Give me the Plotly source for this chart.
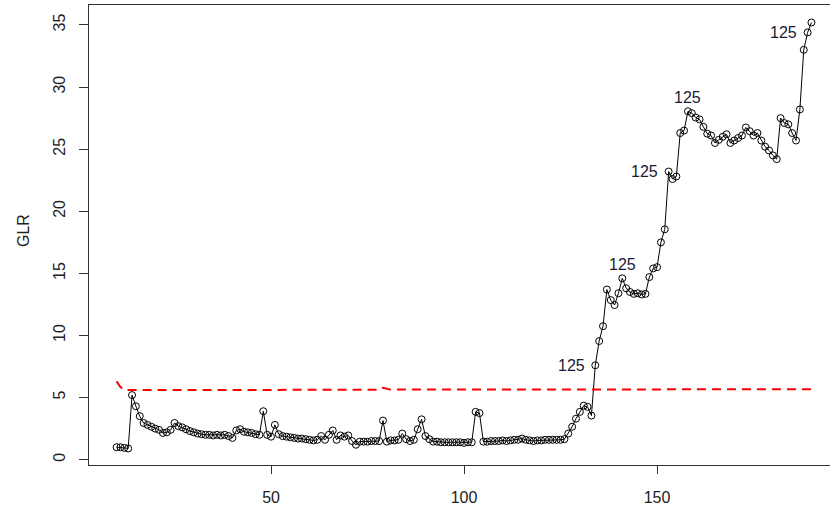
import plotly.graph_objects as go

x_vals = list(range(10, 191))
glr = [
    1.0, 1.0, 0.95, 0.9, 5.2, 4.3, 3.5, 2.95, 2.8, 2.65,
    2.5, 2.4, 2.15, 2.2, 2.4, 2.95, 2.7, 2.6, 2.45, 2.3,
    2.2, 2.1, 2.05, 2.0, 2.0, 1.95, 2.0, 1.95, 2.0, 1.9,
    1.75, 2.35, 2.45, 2.25, 2.2, 2.15, 2.05, 2.0, 3.9, 2.0,
    1.85, 2.8, 2.05, 1.9, 1.85, 1.8, 1.75, 1.7, 1.7, 1.65,
    1.6, 1.55, 1.6, 1.9, 1.6, 2.0, 2.35, 1.6, 1.95, 1.85,
    1.95, 1.5, 1.2, 1.45, 1.45, 1.45, 1.5, 1.5, 1.5, 3.15,
    1.45, 1.55, 1.55, 1.6, 2.1, 1.65, 1.5, 1.6, 2.45, 3.25,
    1.9, 1.65, 1.45, 1.45, 1.4, 1.4, 1.4, 1.4, 1.4, 1.4,
    1.35, 1.4, 1.4, 3.85, 3.75, 1.45, 1.45, 1.5, 1.5, 1.5,
    1.55, 1.5, 1.55, 1.6, 1.6, 1.7, 1.6, 1.55, 1.5, 1.55,
    1.55, 1.6, 1.6, 1.6, 1.6, 1.6, 1.65, 2.1, 2.65, 3.3,
    3.85, 4.35, 4.25, 3.55, 7.6, 9.55, 10.75, 13.7, 12.85, 12.45,
    13.4, 14.6, 13.8, 13.5, 13.35, 13.4, 13.3, 13.35, 14.7, 15.4,
    15.5, 17.5, 18.55, 23.2, 22.6, 22.8, 26.3, 26.5, 28.05, 27.9,
    27.55, 27.4, 26.8, 26.25, 26.1, 25.5, 25.75, 26.0, 26.2, 25.5,
    25.7, 25.9, 26.1, 26.75, 26.45, 26.1, 26.3, 25.7, 25.2, 24.9,
    24.5, 24.2, 27.5, 27.1, 27.0, 26.3, 25.7, 28.2, 33.0, 34.4,
    35.2,
]

# threshold (red dashed) vertices
thr_x = [10, 11, 12, 13, 78, 79, 80, 81, 190]
thr_y = [6.3, 5.85, 5.6, 5.6, 5.63, 5.78, 5.7, 5.64, 5.67]

# labelled points
label_x = [134, 141, 153, 158, 189]
label_pos = ["left", "top", "left", "top", "left"]
label_text = "125"

x_ticks = [50, 100, 150]
y_ticks = [0, 5, 10, 15, 20, 25, 30, 35]

FONT = "Liberation Sans, Arial, sans-serif"

fig = go.Figure()
fig.add_trace(go.Scatter(
    x=x_vals, y=glr, mode="lines+markers",
    line=dict(color="black", width=1),
    marker=dict(symbol="circle-open", size=7,
                line=dict(color="rgba(0,0,0,0.7)", width=1)),
    showlegend=False,
))
fig.add_trace(go.Scatter(
    x=thr_x, y=thr_y, mode="lines",
    line=dict(color="#ff0000", width=2, dash="9px,6px"),
    showlegend=False,
))

for lx, pos in zip(label_x, label_pos):
    ly = glr[x_vals.index(lx)]
    fig.add_annotation(
        x=lx, y=ly, text=label_text, showarrow=False,
        xanchor="center", yanchor="middle",
        xshift=-24 if pos == "left" else 0,
        yshift=14 if pos == "top" else 0,
        font=dict(family=FONT, size=16, color="#1a1a33"),
    )

fig.add_annotation(
    xref="paper", yref="paper", x=(23 - 89) / 741, y=(465 - 231) / 460,
    text="GLR", showarrow=False, textangle=-90,
    xanchor="center", yanchor="middle",
    font=dict(family=FONT, size=16, color="#222"),
)

fig.update_layout(
    width=830, height=511,
    margin=dict(l=89, r=0, t=5, b=46),
    paper_bgcolor="white", plot_bgcolor="white",
    font=dict(family=FONT, size=16, color="#222"),
    xaxis=dict(
        range=[2.85, 194.8], tickvals=x_ticks, ticktext=[str(v) for v in x_ticks],
        showgrid=False, zeroline=False, showline=True, mirror=True,
        linecolor="#333", linewidth=1, ticks="outside", ticklen=8,
        tickcolor="#333", ticklabelstandoff=10,
    ),
    yaxis=dict(
        range=[-0.43, 36.61], tickvals=y_ticks, ticktext=[str(v) for v in y_ticks],
        showgrid=False, zeroline=False, showline=True, mirror=False,
        linecolor="#333", linewidth=1, ticks="outside", ticklen=9,
        tickcolor="#333", tickangle=-90, ticklabelstandoff=8,
    ),
)

fig.write_html(
    "out.html",
    config={"displayModeBar": False},
    post_script="document.body.style.margin='0';document.body.style.overflow='hidden';",
)
